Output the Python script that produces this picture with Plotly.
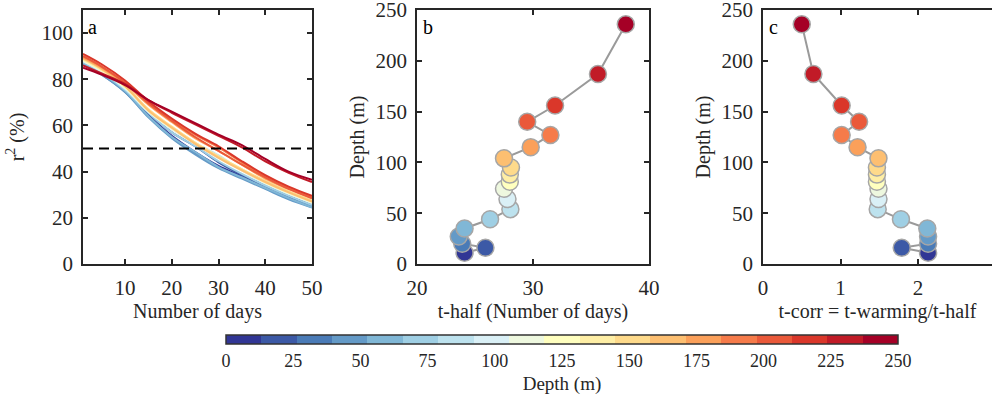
import plotly.graph_objects as go
from plotly.colors import sample_colorscale

# ---------------- data ----------------
days = [1, 5, 10, 15, 20, 25, 30, 35, 40, 45, 50]
depth = [11, 16, 20, 27, 35, 44, 54, 64, 74, 81, 88, 95, 104, 115, 127, 140, 156, 187, 236]
t_half = [24.1, 25.9, 23.9, 23.6, 24.1, 26.3, 28.05, 27.8, 27.5, 28.0, 28.0, 28.1, 27.5,
          29.8, 31.5, 29.5, 31.9, 35.6, 38.0]
t_corr = [2.13, 1.79, 2.13, 2.13, 2.12, 1.78, 1.48, 1.49, 1.49, 1.47, 1.47, 1.47, 1.49,
          1.22, 1.015, 1.24, 1.015, 0.65, 0.50]

r2_d011 = [87.0, 82.5, 75.0, 64.5, 55.5, 48.5, 42.5, 38.0, 33.5, 29.0, 25.5]
r2_d016 = [87.5, 83.0, 75.5, 65.5, 57.0, 51.0, 44.0, 38.5, 34.0, 29.5, 26.0]
r2_d020 = [86.5, 82.0, 74.5, 64.0, 55.0, 48.0, 42.0, 37.5, 33.0, 28.5, 25.0]
r2_d027 = [86.5, 82.0, 74.5, 63.5, 54.5, 47.5, 41.5, 37.0, 32.5, 28.0, 24.5]
r2_d035 = [87.0, 82.5, 75.0, 64.0, 55.0, 48.5, 42.0, 37.5, 33.0, 28.5, 24.5]
r2_d044 = [87.5, 83.0, 75.5, 65.5, 57.0, 51.0, 44.5, 39.0, 34.0, 29.5, 25.5]
r2_d054 = [88.0, 83.5, 76.0, 66.0, 58.5, 52.5, 47.0, 40.5, 35.0, 30.5, 26.5]
r2_d064 = [88.0, 83.5, 76.0, 66.0, 58.5, 52.0, 46.5, 40.5, 35.0, 30.5, 26.5]
r2_d074 = [88.0, 83.5, 76.5, 66.0, 58.5, 52.0, 46.0, 40.5, 35.0, 30.5, 26.5]
r2_d081 = [88.5, 84.0, 76.5, 66.5, 59.0, 52.5, 46.5, 41.0, 35.5, 31.0, 27.0]
r2_d088 = [88.5, 84.0, 77.0, 66.5, 59.0, 52.5, 46.5, 41.0, 35.5, 31.0, 27.0]
r2_d095 = [89.0, 84.5, 77.0, 67.0, 59.5, 52.5, 46.5, 41.0, 36.0, 31.5, 27.5]
r2_d104 = [89.0, 84.5, 77.0, 66.5, 59.0, 52.0, 46.0, 40.5, 35.5, 31.0, 27.0]
r2_d115 = [89.5, 85.0, 78.0, 69.0, 61.5, 54.5, 49.0, 43.0, 37.0, 32.5, 28.5]
r2_d127 = [90.0, 85.5, 78.5, 70.0, 62.5, 56.0, 50.5, 44.0, 38.0, 33.0, 29.0]
r2_d140 = [90.0, 85.5, 78.5, 69.5, 62.0, 55.0, 49.0, 43.0, 37.5, 32.5, 28.5]
r2_d156 = [91.0, 86.5, 79.5, 70.5, 63.0, 56.5, 51.0, 44.5, 38.5, 33.5, 29.5]
r2_d187 = [86.0, 82.5, 78.0, 71.0, 65.5, 60.5, 55.5, 50.5, 44.5, 39.5, 35.5]
r2_d236 = [85.0, 82.0, 77.5, 71.0, 66.0, 61.0, 56.0, 51.5, 45.5, 40.0, 36.5]

r2_lines = [r2_d011, r2_d016, r2_d020, r2_d027, r2_d035, r2_d044, r2_d054, r2_d064,
            r2_d074, r2_d081, r2_d088, r2_d095, r2_d104, r2_d115, r2_d127, r2_d140,
            r2_d156, r2_d187, r2_d236]

threshold = 50
cbar_ticks = [0, 25, 50, 75, 100, 125, 150, 175, 200, 225, 250]

# ---------------- style ----------------
W, H = 992, 397
FONT = "Liberation Serif, Times New Roman, serif"
TXT = "#262626"
n = len(depth)
palette = sample_colorscale("RdYlBu_r", [i / (n - 1) for i in range(n)])
disc_scale = []
for k, c in enumerate(palette):
    disc_scale.append([k / n, c])
    disc_scale.append([(k + 1) / n, c])


def px_x(p):
    return p / W


def px_y(p):
    return 1 - p / H


fig = go.Figure()

# panel a
for i, ys in enumerate(r2_lines):
    fig.add_trace(go.Scatter(x=days, y=ys, mode="lines",
                             line=dict(color=palette[i], width=2, shape="spline", smoothing=1.0),
                             xaxis="x", yaxis="y", showlegend=False, hoverinfo="skip"))
fig.add_shape(type="line", xref="x domain", yref="y", x0=0, x1=1, y0=threshold, y1=threshold,
              line=dict(color="black", width=2, dash="10px,6px"))

# panel b
fig.add_trace(go.Scatter(x=t_half, y=depth, mode="lines", line=dict(color="#9a9a9a", width=2),
                         xaxis="x2", yaxis="y2", showlegend=False))
fig.add_trace(go.Scatter(x=t_half, y=depth, mode="markers",
                         marker=dict(size=17, color=palette, line=dict(color="#a6a6a6", width=1.5)),
                         xaxis="x2", yaxis="y2", showlegend=False))

# panel c
fig.add_trace(go.Scatter(x=t_corr, y=depth, mode="lines", line=dict(color="#9a9a9a", width=2),
                         xaxis="x3", yaxis="y3", showlegend=False))
fig.add_trace(go.Scatter(x=t_corr, y=depth, mode="markers",
                         marker=dict(size=17, color=palette, line=dict(color="#a6a6a6", width=1.5)),
                         xaxis="x3", yaxis="y3", showlegend=False))

# colorbar carrier
cbar = dict(orientation="h", x=px_x(562), xanchor="center",
            y=px_y(335), yanchor="top", len=672 / W, lenmode="fraction",
            thickness=9, xpad=0, ypad=0,
            outlinecolor="#333333", outlinewidth=1.5,
            tickvals=cbar_ticks, ticks="",
            tickfont=dict(family=FONT, size=18, color=TXT),
            title=dict(text="Depth (m)", side="bottom", font=dict(family=FONT, size=19, color=TXT)))
fig.add_trace(go.Scatter(x=[None], y=[None], mode="markers", xaxis="x2", yaxis="y2", showlegend=False,
                         marker=dict(color=[0], cmin=0, cmax=250, colorscale=disc_scale,
                                     showscale=True, colorbar=cbar)))

axis_common = dict(showline=True, linecolor=TXT, linewidth=1.5, mirror="ticks", ticks="inside",
                   ticklen=5, tickwidth=1.5, tickcolor=TXT, showgrid=False, zeroline=False,
                   automargin=False, ticklabeloverflow="allow",
                   tickfont=dict(family=FONT, size=21, color=TXT), ticklabelstandoff=4)
title_font = dict(family=FONT, size=20, color=TXT)

dom_y = [px_y(264), px_y(10)]
depth_range = [0, 250.01]
fig.update_layout(
    width=W, height=H, margin=dict(l=0, r=0, t=0, b=0, autoexpand=False),
    paper_bgcolor="white", plot_bgcolor="white",
    xaxis=dict(axis_common, domain=[px_x(83), px_x(312)], range=[1, 50], tickvals=[10, 20, 30, 40, 50],
               anchor="y", title=dict(text="Number of days", font=title_font, standoff=4)),
    yaxis=dict(axis_common, domain=dom_y, range=[0, 110], tickvals=[0, 20, 40, 60, 80, 100], anchor="x",
               title=dict(text="r<sup>2</sup> (%)", font=title_font, standoff=12)),
    xaxis2=dict(axis_common, domain=[px_x(417), px_x(649)], range=[20, 40], tickvals=[20, 30, 40],
                anchor="y2", title=dict(text="t-half (Number of days)", font=title_font, standoff=4)),
    yaxis2=dict(axis_common, domain=dom_y, range=depth_range, tickvals=[0, 50, 100, 150, 200, 250],
                anchor="x2", title=dict(text="Depth (m)", font=title_font, standoff=6)),
    xaxis3=dict(axis_common, domain=[px_x(763), 1.0], range=[0, (W - 763) / 77.5], tickvals=[0, 1, 2],
                anchor="y3", title=dict(text="t-corr = t-warming/t-half", font=title_font, standoff=4)),
    yaxis3=dict(axis_common, domain=dom_y, range=depth_range, tickvals=[0, 50, 100, 150, 200, 250],
                anchor="x3", mirror=False, title=dict(text="Depth (m)", font=title_font, standoff=6)),
    yaxis4=dict(overlaying="y3", side="right", anchor="x3", range=depth_range, tickvals=[50, 100, 150, 200],
                showline=False, showgrid=False, zeroline=False, ticks="inside", ticklen=3, tickwidth=1.5,
                tickcolor=TXT, showticklabels=False, automargin=False),
    annotations=[
        dict(text="a", xref="paper", yref="paper", x=px_x(86), y=px_y(14), xanchor="left", yanchor="top",
             showarrow=False, font=dict(family=FONT, size=20, color="black")),
        dict(text="b", xref="paper", yref="paper", x=px_x(421), y=px_y(14), xanchor="left", yanchor="top",
             showarrow=False, font=dict(family=FONT, size=20, color="black")),
        dict(text="c", xref="paper", yref="paper", x=px_x(767), y=px_y(14), xanchor="left", yanchor="top",
             showarrow=False, font=dict(family=FONT, size=20, color="black")),
    ],
)

fig.write_html("out.html", config={"displayModeBar": False},
               post_script="document.body.style.margin='0px';")
